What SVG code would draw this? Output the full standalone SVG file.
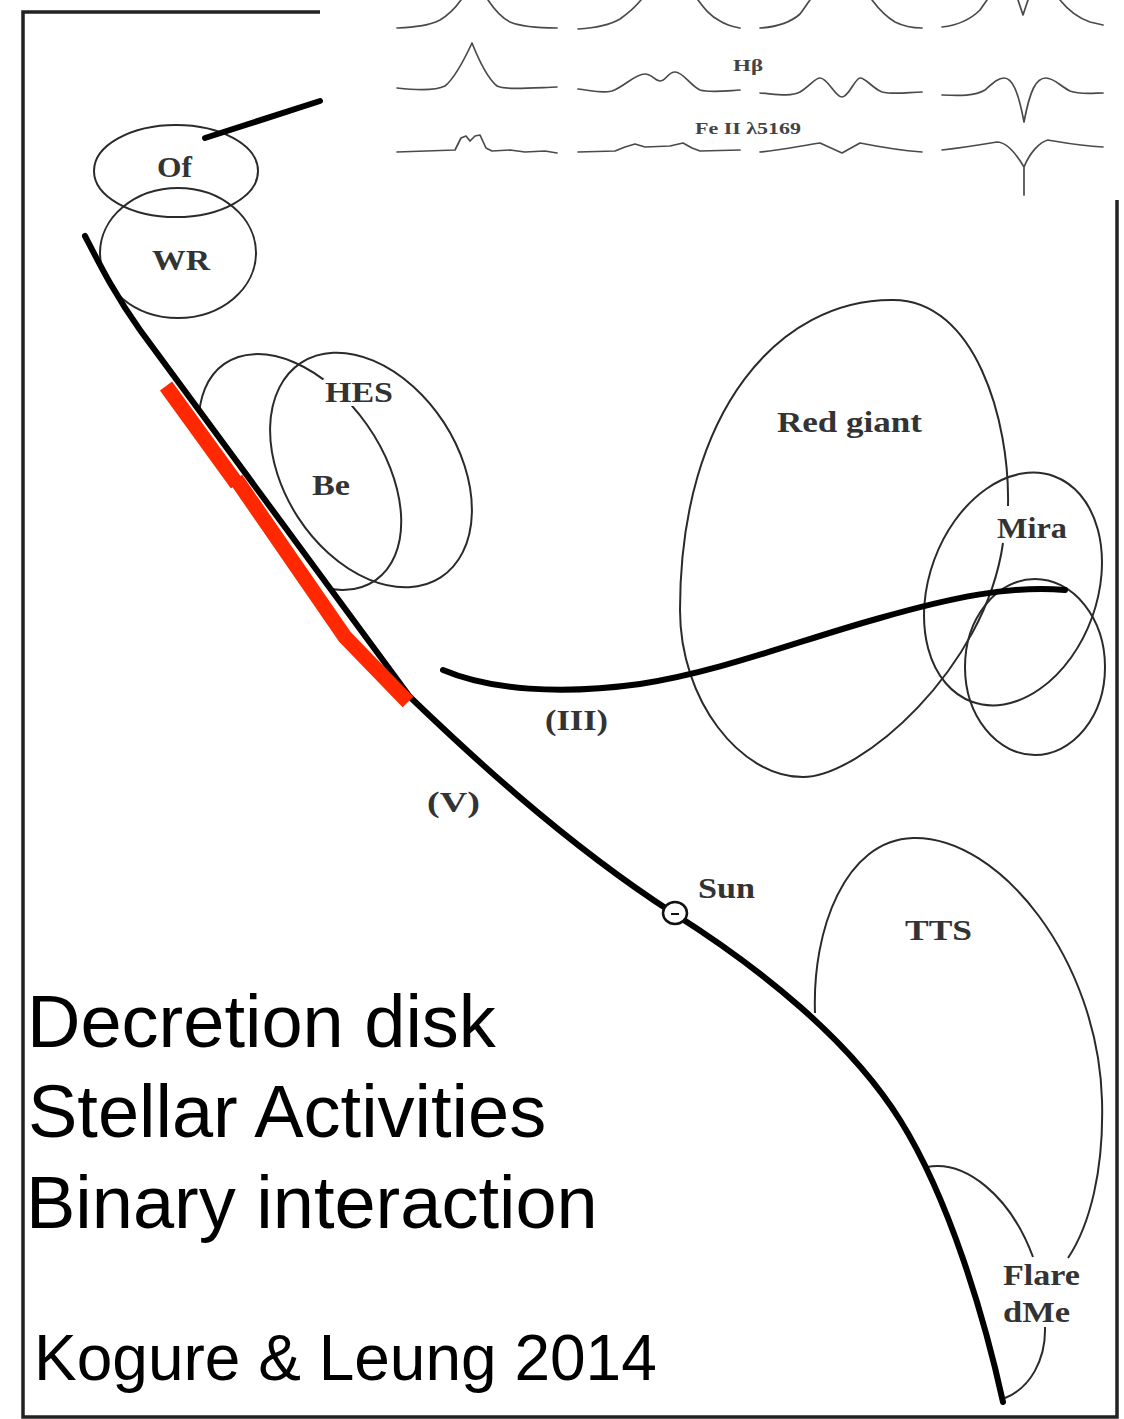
<svg xmlns="http://www.w3.org/2000/svg" width="1124" height="1419" viewBox="0 0 1124 1419">
<style>
.frame{stroke:#222;stroke-width:3.5;fill:none}
.ell{fill:none;stroke:#2a2a2a;stroke-width:2}
.seq{fill:none;stroke:#000;stroke-width:6;stroke-linecap:round;stroke-linejoin:round}
.spec{fill:none;stroke:#4a4a4a;stroke-width:1.7;stroke-linejoin:round;stroke-linecap:round}
.lbl{font-family:"Liberation Serif",serif;font-weight:bold;font-size:30px;fill:#333}
.halo{stroke:#fff;stroke-width:8;paint-order:stroke;stroke-linejoin:round}
.slbl{font-family:"Liberation Serif",serif;font-size:16px;font-weight:bold;fill:#444}
.big{font-family:"Liberation Sans",Arial,sans-serif;font-size:74px;fill:#000}
.ref{font-family:"Liberation Sans",Arial,sans-serif;font-size:64px;fill:#000}
.red{fill:none;stroke:#ff2800;stroke-width:15;stroke-linejoin:miter}
</style>
<defs>
<clipPath id="beClip" clipPathUnits="userSpaceOnUse"><polygon points="60,221 430,724 700,724 700,0 60,0"/></clipPath>
</defs>
<rect width="1124" height="1419" fill="#fff"/>
<g id="frame">
<path class="frame" d="M320,12 L23,12 L23,1417 L1117,1417 L1117,200"/>
</g>
<g id="spectra-inset">
<path class="spec" d="M397,28 C415,27 428,26 440,20 C450,14 456,7 461,0 M488,0 C494,9 500,17 510,22 C522,27 540,28 557,28"/>
<path class="spec" d="M578,29 C595,28 608,26 620,19 C630,12 636,6 641,0 M698,0 C704,8 710,16 720,21 C728,26 735,27 740,28"/>
<path class="spec" d="M760,28 C775,27 790,23 800,14 C804,9 807,4 810,0 M872,0 C878,8 885,16 895,22 C905,27 913,28 922,28"/>
<path class="spec" d="M942,27 C960,25 972,18 980,10 L987,0 M1018,0 L1023,15 L1028,0 M1060,0 C1068,10 1078,18 1090,22 L1103,25"/>
<path class="spec" d="M397,88 C415,90 435,91 445,86 C455,78 465,58 472,43 C478,58 487,78 497,86 C505,90 530,88 557,87"/>
<path class="spec" d="M578,89 C590,90 600,94 612,91 C625,86 635,74 645,74 C652,74 655,81 660,81 C666,81 668,72 675,72 C683,72 690,85 700,90 C710,93 725,91 740,90"/>
<path class="spec" d="M760,93 C775,94 790,97 800,92 C810,86 815,78 820,78 C828,78 835,97 842,97 C849,97 855,78 860,78 C866,78 872,88 882,92 C895,95 910,92 922,92"/>
<path class="spec" d="M942,95 C960,96 975,96 985,90 C993,83 998,78 1004,78 C1012,78 1018,90 1024,122 C1030,90 1036,78 1046,78 C1054,78 1060,86 1070,91 C1080,95 1095,93 1103,93"/>
<path class="spec" d="M397,152 L455,150 L461,138 L466,136 L470,141 L475,136 L480,135 L486,148 L492,151 L510,150 L525,152 L545,151 L557,153"/>
<path class="spec" d="M578,152 L615,151 L625,147 L635,144 L645,147 L670,146 L683,143 L692,148 L700,151 L740,150"/>
<path class="spec" d="M760,152 C780,150 800,146 820,143 L842,153 L860,143 C875,146 895,150 922,152"/>
<path class="spec" d="M942,150 C960,148 985,144 997,142 C1005,142 1015,152 1024,167 C1030,152 1040,142 1048,140 C1060,142 1080,146 1103,147 M1024,167 L1024,195"/>
<text class="slbl" x="733" y="71" textLength="30" lengthAdjust="spacingAndGlyphs">Hβ</text>
<text class="slbl" x="695" y="134" textLength="106" lengthAdjust="spacingAndGlyphs">Fe II λ5169</text>
</g>
<g id="node-of">
<ellipse class="ell" cx="176" cy="171" rx="82" ry="46"/>
<text class="lbl" x="157" y="177" textLength="35" lengthAdjust="spacingAndGlyphs">Of</text>
</g>
<g id="node-wr">
<ellipse class="ell" cx="178" cy="253" rx="78" ry="65"/>
<text class="lbl" x="152" y="270" textLength="58" lengthAdjust="spacingAndGlyphs">WR</text>
</g>
<g id="node-hes">
<ellipse class="ell" cx="0" cy="0" rx="128" ry="87" transform="translate(371,470) rotate(57)"/>
</g>
<g id="node-be">
<g clip-path="url(#beClip)">
<ellipse class="ell" cx="0" cy="0" rx="132" ry="82" transform="translate(300,472) rotate(55)"/>
</g>
<text class="lbl" x="312" y="495" textLength="38" lengthAdjust="spacingAndGlyphs">Be</text>
</g>
<text class="lbl halo" x="325" y="402" textLength="68" lengthAdjust="spacingAndGlyphs">HES</text>
<g id="node-redgiant">
<path class="ell" d="M1008,506 C1010,420 975,300 893,300 C780,299 680,410 680,610 C680,700 740,777 803,777 C860,777 985,670 1003,543"/>
<text class="lbl" x="777" y="432" textLength="145" lengthAdjust="spacingAndGlyphs">Red giant</text>
</g>
<g id="node-mira">
<ellipse class="ell" cx="0" cy="0" rx="84" ry="120" transform="translate(1013,589) rotate(20)"/>
<ellipse class="ell" cx="1035" cy="667" rx="70" ry="88"/>
<text class="lbl" x="997" y="538" textLength="70" lengthAdjust="spacingAndGlyphs">Mira</text>
</g>
<g id="node-tts">
<path class="ell" d="M815,1013 C812,930 845,840 913,838 C1000,836 1098,960 1102,1100 C1104,1170 1090,1225 1068,1258"/>
<text class="lbl" x="905" y="940" textLength="67" lengthAdjust="spacingAndGlyphs">TTS</text>
</g>
<g id="node-flare">
<path class="ell" d="M927,1167 C965,1160 1010,1195 1033,1257 M1045,1327 C1046,1360 1030,1388 1005,1398"/>
<text class="lbl" x="1003" y="1285" textLength="77" lengthAdjust="spacingAndGlyphs">Flare</text>
<text class="lbl" x="1003" y="1322" textLength="67" lengthAdjust="spacingAndGlyphs">dMe</text>
</g>
<g id="connectors">
<path class="seq" d="M85,236 C100,265 115,295 140,330 L410,697 C460,745 560,840 673,913 C760,968 850,1040 900,1120 C950,1200 985,1320 1003,1402"/>
<path class="seq" d="M443,670 C490,690 560,695 640,684 C720,672 800,640 880,618 C950,598 1010,585 1065,590"/>
<path class="seq" stroke-width="7" stroke-linecap="butt" d="M205,138 L320,101"/>
<path class="red" d="M166,386 L237,484"/>
<path class="red" d="M236,479 L345,637 L408,702"/>
</g>
<g id="node-sun">
<ellipse cx="675" cy="913" rx="12" ry="11" fill="#fff" stroke="#111" stroke-width="2.5"/>
<line x1="671" y1="914" x2="679" y2="914" stroke="#111" stroke-width="2"/>
<text class="lbl" x="698" y="898" textLength="57" lengthAdjust="spacingAndGlyphs">Sun</text>
</g>
<text class="lbl" x="545" y="730" textLength="63" lengthAdjust="spacingAndGlyphs">(III)</text>
<text class="lbl" x="427" y="812" textLength="53" lengthAdjust="spacingAndGlyphs">(V)</text>
<g id="annotations">
<text class="big" x="27" y="1047">Decretion disk</text>
<text class="big" x="28" y="1137">Stellar Activities</text>
<text class="big" x="26" y="1228">Binary interaction</text>
<text class="ref" x="34" y="1380">Kogure &amp; Leung 2014</text>
</g>
</svg>
